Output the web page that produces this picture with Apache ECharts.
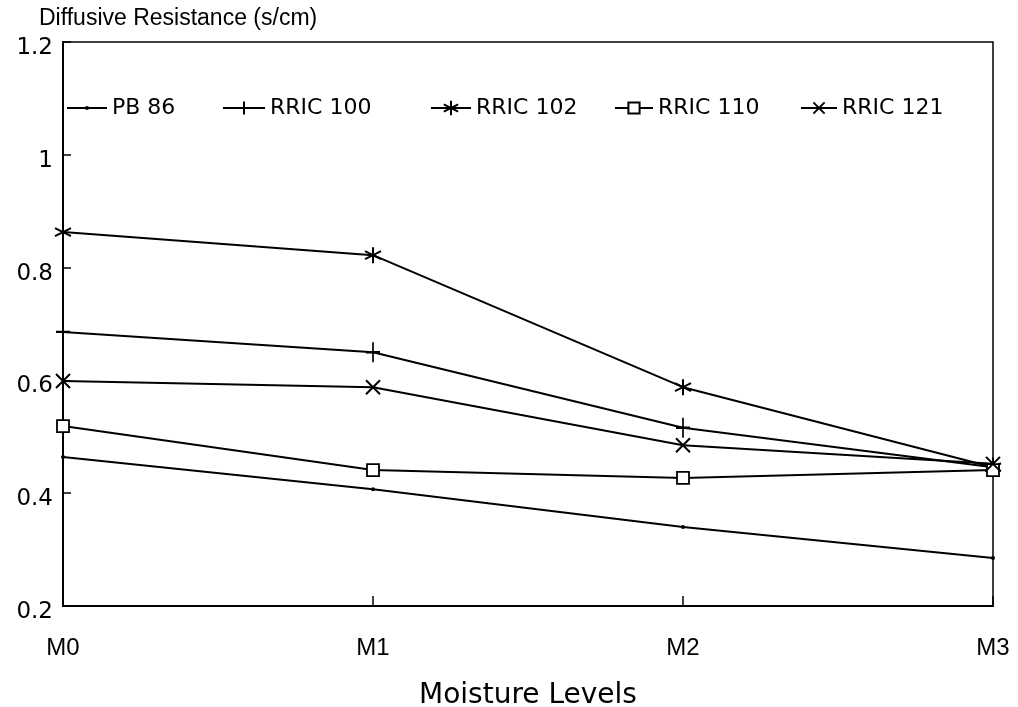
<!DOCTYPE html>
<html>
<head>
<meta charset="utf-8">
<script src="https://cdn.jsdelivr.net/npm/echarts@6/dist/echarts.min.js"></script>
<style>html,body{margin:0;padding:0;background:#fff}#c{width:1018px;height:707px}</style>
</head>
<body>
<div id="c"></div>
<script>
const categories = ['M0', 'M1', 'M2', 'M3'];
const pb86 = [0.464, 0.407, 0.340, 0.285];
const rric100 = [0.686, 0.650, 0.516, 0.446];
const rric102 = [0.863, 0.822, 0.588, 0.446];
const rric110 = [0.519, 0.441, 0.427, 0.441];
const rric121 = [0.599, 0.588, 0.485, 0.452];
const yTicks = [0.2, 0.4, 0.6, 0.8, 1, 1.2];

const FONT = 'Liberation Sans';
const WFONT = 'DejaVu Sans';
const chart = echarts.init(document.getElementById('c'), null, {renderer: 'canvas'});

const lineStyle = {color: '#000', width: 2};
function mk(name, data, symbol, size, itemStyle) {
  return {
    name, type: 'line', data, symbol, symbolSize: size, showSymbol: true,
    lineStyle, itemStyle, emphasis: {disabled: true}, animation: false
  };
}
const series = [
  mk('PB 86', pb86, 'circle', 4, {color: '#000'}),
  mk('RRIC 100', rric100, 'path://M0,-10L0,10M-10,0L10,0', [14, 20], {color: 'none', borderColor: '#000', borderWidth: 2}),
  mk('RRIC 102', rric102, 'path://M0,-10L0,10M-8.7,-5L8.7,5M-8.7,5L8.7,-5', 16, {color: 'none', borderColor: '#000', borderWidth: 2}),
  mk('RRIC 110', rric110, 'rect', 12, {color: '#fff', borderColor: '#000', borderWidth: 1.8}),
  mk('RRIC 121', rric121, 'path://M-1,-1L1,1M-1,1L1,-1', 14, {color: 'none', borderColor: '#000', borderWidth: 2})
];

const legendLeft = [66, 222, 430, 614, 800];
const legendIconW = [40, 42, 40, 38, 36];
const legendIconH = [5, 16, 18, 14, 14];
const legends = series.map((s, i) => ({
  data: [s.name], left: legendLeft[i], top: 97, padding: 0,
  itemWidth: legendIconW[i], itemHeight: legendIconH[i], itemGap: 6,
  textStyle: {fontFamily: WFONT, fontSize: 22, color: '#000'}, selectedMode: false
}));

chart.setOption({
  backgroundColor: '#fff',
  animation: false,
  title: {
    text: 'Diffusive Resistance (s/cm)', left: 34, top: 2,
    textStyle: {fontFamily: FONT, fontSize: 23, fontWeight: 'normal', color: '#000'}
  },
  legend: legends,
  grid: {left: 63, right: 25, top: 42, bottom: 101, show: true, borderColor: '#000', borderWidth: 1.5,
    containLabel: false, outerBoundsMode: 'none'},
  xAxis: {
    type: 'category', data: categories, boundaryGap: false,
    name: 'Moisture Levels', nameLocation: 'middle', nameGap: 76,
    nameTextStyle: {fontFamily: WFONT, fontSize: 28, color: '#000'},
    axisLine: {lineStyle: {color: '#000', width: 2}},
    axisTick: {inside: true, length: 10, lineStyle: {color: '#000', width: 1.5}},
    axisLabel: {fontFamily: FONT, fontSize: 24, color: '#000', margin: 30},
    splitLine: {show: false}
  },
  yAxis: {
    type: 'value', min: 0.2, max: 1.2, interval: 0.2,
    axisLine: {show: true, lineStyle: {color: '#000', width: 2}},
    axisTick: {show: true, inside: true, length: 8, lineStyle: {color: '#000', width: 1.5}},
    axisLabel: {color: '#000', margin: 10,
      formatter: v => {const r = Math.round(v * 10) / 10; return yTicks.includes(r) ? '{a|' + r + '}' : '';},
      rich: {a: {fontFamily: WFONT, fontSize: 23, color: '#000', padding: [12, 0, 0, 0]}}},
    splitLine: {show: false}
  },
  series
});
</script>
</body>
</html>
